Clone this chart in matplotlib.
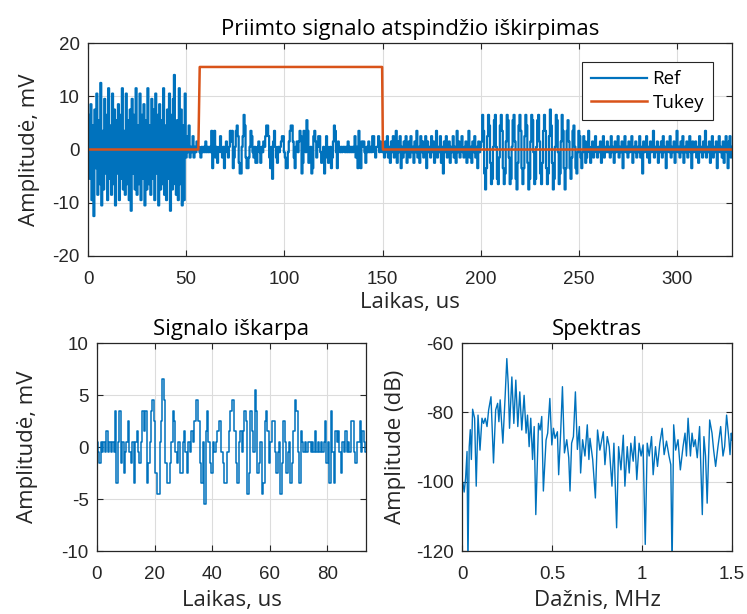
import matplotlib
matplotlib.use('Agg')
import matplotlib.pyplot as plt
import numpy as np

plt.rcParams['axes.unicode_minus'] = False

# --- data ---
DT = 0.5  # us, sample step used for the hand-read signal

# 0 .. 56 us : strong noise before the window
ref_head = [
    0, 6.5, -5.5, 8.5, -9.5, 4.5, -12.5, 7.5, -3.5, 10.5,
    -8.5, 5.5, -6.5, 12.5, -10.5, 3.5, -7.5, 9.5, -4.5, 6.5,
    -9.5, 11.5, -5.5, 4.5, -8.5, 10.5, -6.5, 7.5, -10.5, 5.5,
    -4.5, 8.5, -9.5, 6.5, -5.5, 11.5, -7.5, 3.5, -8.5, 10.5,
    -6.5, 5.5, -9.5, 7.5, -11.5, 9.5, -4.5, 6.5, -7.5, 11.5,
    -8.5, 4.5, -6.5, 10.5, -9.5, 6.5, -5.5, 8.5, -10.5, 5.5,
    -7.5, 11.5, -6.5, 4.5, -8.5, 9.5, -5.5, 7.5, -9.5, 10.5,
    -4.5, 6.5, -10.5, 8.5, -7.5, 5.5, -6.5, 11.5, -8.5, 4.5,
    -9.5, 7.5, -5.5, 10.5, -11.5, 6.5, -7.5, 9.5, 14.0, -6.5,
    -8.5, 5.5, -9.5, 11.5, -6.5, 7.5, -10.5, 4.5, -9.5, 10.5,
    -1.5, 2.5, -0.5, 4.5, -1.5, 0.5, -0.5, 2.5, -1.5, 0.5,
    -0.5, 1.5, 0.5,
]

# 56.5 .. 150 us : the part cut out by the window (also the lower-left plot)
ref_clip = [
    0.5, -0.5, -1.5, 0.5, -0.5, 0.5, -0.5, 1.5, -0.5, 0.5,
    -0.5, 0.5, -0.5, 3.5, -3.5, 0.5, 3.5, -1.5, 0.5, -2.5,
    -0.5, 0.5, 2.5, -0.5, -1.5, 0.5, -3.5, 0.5, 1.5, -0.5,
    -1.5, 0.5, 3.5, 1.5, 3.5, -3.5, -1.5, 0.5, 3.5, 4.5,
    2.5, -2.5, -4.5, -4.5, 0.5, 2.5, 6.5, 4.5, -1.5, -3.5,
    -3.5, -1.5, 0.5, 3.5, 2.5, -0.5, -1.5, 0.5, -2.5, -2.5,
    0.5, 1.5, -0.5, -2.5, 0.5, -0.5, 1.5, 0.5, 2.5, 4.5,
    4.5, 2.5, -1.5, -3.5, 0.5, -5.5, 1.5, 3.5, 0.5, -1.5,
    -2.5, 0.5, -0.5, 0.5, 1.5, 2.5, 2.5, -0.5, -1.5, -3.5,
    -3.5, -0.5, 1.5, 3.5, 4.5, 4.5, 1.5, -1.5, -3.5, 0.5,
    1.5, -0.5, 1.5, 3.5, 2.5, -4.5, -2.5, 3.5, 1.5, -0.5,
    5.5, 3.5, -2.5, -1.5, 0.5, -4.5, -3.5, 2.5, 3.5, 1.5,
    -1.5, 0.5, 2.5, 2.5, -0.5, -2.5, -0.5, 0.5, -4.5, -1.5,
    2.5, 0.5, -2.5, -0.5, 0.5, -3.5, -1.5, 1.5, 4.5, 3.5,
    -0.5, -3.5, 1.5, 0.5, -0.5, 0.5, -0.5, 0.5, 0.5, -0.5,
    0.5, -0.5, 1.5, -0.5, 0.5, -0.5, 0.5, -0.5, 0.5, 2.5,
    -1.5, 0.5, -3.5, 3.5, -0.5, -3.5, 1.5, 0.5, 1.5, -0.5,
    -2.5, 0.5, -0.5, 1.5, -0.5, 0.5, -0.5, 2.5, 2.5, -0.5,
    -1.5, 0.5, 0.5, 2.5, -0.5, 1.5, 0.5, -0.5,
]

# 150.5 .. 200 us : low noise
ref_quiet1 = [
    0.5, -1.5, 1.5, -0.5, 2.5, -1.5, 0.5, -2.5, 1.5, -0.5,
    2.5, -1.5, 0.5, 3.5, -2.5, 1.5, -0.5, 2.5, -3.5, 0.5,
    -1.5, 1.5, -0.5, 2.5, -2.5, 0.5, 1.5, -1.5, 2.5, -0.5,
    0.5, -2.5, 1.5, -0.5, 3.5, -1.5, 0.5, -2.5, 2.5, -0.5,
    1.5, -1.5, 0.5, 2.5, -3.5, 1.5, -0.5, 0.5, -1.5, 2.5,
    -0.5, 1.5, -2.5, 0.5, 3.5, -1.5, 0.5, -0.5, 2.5, -2.5,
    0.5, -4.5, 1.5, -0.5, 2.5, -1.5, 0.5, 1.5, -2.5, 0.5,
    -0.5, 2.5, -1.5, 0.5, -2.5, 3.5, -0.5, 1.5, -1.5, 0.5,
    2.5, -0.5, -1.5, 0.5, 1.5, -2.5, 0.5, 3.5, -1.5, 0.5,
    -2.5, 1.5, -0.5, 2.5, -1.5, 0.5, -3.5, 1.5, -0.5, 0.5,
]

# 200.5 .. 250 us : echo burst
ref_echo = [
    1.5, 6.5, 3.5, -4.5, -7.5, -3.5, 2.5, 6.5, 4.5, -2.5,
    -6.5, -5.5, 0.5, 5.5, 6.5, 0.5, -5.5, -6.5, -1.5, 4.5,
    6.5, 3.5, -3.5, -6.5, -4.5, 1.5, 6.5, 5.5, -1.5, -6.5,
    -5.5, 0.5, 5.5, 6.5, 1.5, -5.5, -7.5, -2.5, 4.5, 6.5,
    3.5, -3.5, -6.5, -3.5, 2.5, 6.5, 4.5, -2.5, -7.5, -5.5,
    1.5, 6.5, 5.5, -0.5, -6.5, -5.5, 0.5, 5.5, 6.5, 1.5,
    -4.5, -6.5, -2.5, 3.5, 6.5, 3.5, -3.5, -6.5, -4.5, 2.5,
    7.5, 4.5, -2.5, -7.5, -5.5, 0.5, 6.5, 5.5, -0.5, -6.5,
    -4.5, 1.5, 6.5, 3.5, -3.5, -7.5, -3.5, 3.5, 5.5, 1.5,
    -3.5, -5.5, -1.5, 3.5, 4.5, 0.5, -3.5, -4.5, -0.5, 3.5,
]

# 250.5 .. 328 us : low noise
ref_quiet2 = [
    2.5, -1.5, -3.5, -0.5, 2.5, 1.5, -2.5, -1.5, 1.5, 3.5,
    -0.5, -2.5, 0.5, 1.5, -1.5, 0.5, 2.5, -0.5, -1.5, 0.5,
    -0.5, 1.5, -2.5, 0.5, 2.5, -1.5, 0.5, -0.5, 1.5, -0.5,
    0.5, -1.5, 2.5, -0.5, 0.5, -2.5, 1.5, -0.5, 0.5, 2.5,
    -1.5, 0.5, -0.5, 1.5, -3.5, 0.5, 2.5, -0.5, 0.5, -1.5,
    1.5, -0.5, 0.5, 2.5, -2.5, 0.5, -0.5, 1.5, -1.5, 0.5,
    -0.5, 2.5, -1.5, 0.5, -4.5, 1.5, -0.5, 0.5, 2.5, -1.5,
    0.5, -2.5, 1.5, -0.5, 0.5, 3.5, -1.5, 0.5, -0.5, 1.5,
    -2.5, 0.5, -0.5, 1.5, -1.5, 2.5, -0.5, 0.5, -3.5, 1.5,
    0.5, -0.5, 2.5, -1.5, 0.5, -0.5, 1.5, -2.5, 0.5, 3.5,
    -0.5, 0.5, -1.5, 1.5, -0.5, 2.5, -2.5, 0.5, -0.5, 1.5,
    -1.5, 0.5, 2.5, -0.5, -3.5, 1.5, -0.5, 0.5, 1.5, -1.5,
    0.5, -2.5, 2.5, -0.5, 0.5, -1.5, 1.5, -0.5, 3.5, -1.5,
    0.5, -0.5, 1.5, -2.5, 0.5, 2.5, -1.5, 0.5, -0.5, 1.5,
    -3.5, 0.5, 2.5, -0.5, 0.5, -1.5, 1.5, -2.5, 0.5, 2.5,
    -0.5, -3.5, 1.5, 2.5, -1.5, 0.5,
]

# Tukey window corners (us, mV)
tukey_t = [0, 56.2, 56.9, 149.8, 150.2, 328]
tukey_v = [0, 0, 15.5, 15.5, 0, 0]

# spectrum of the clip: frequency (MHz) and level (dB)
spec_f = [0.0, 0.005, 0.012, 0.02, 0.028, 0.033, 0.04, 0.046, 0.052, 0.059,
          0.07, 0.079, 0.089, 0.1, 0.111, 0.12, 0.129, 0.139, 0.148, 0.161,
          0.175, 0.187, 0.198, 0.205, 0.212, 0.227, 0.24, 0.249, 0.257, 0.264,
          0.277, 0.288, 0.299, 0.31, 0.321, 0.332, 0.345, 0.356, 0.364, 0.373,
          0.382, 0.392, 0.401, 0.41, 0.425, 0.434, 0.443, 0.452, 0.467, 0.476,
          0.488, 0.499, 0.508, 0.517, 0.53, 0.537, 0.548, 0.558, 0.569, 0.582,
          0.593, 0.6, 0.609, 0.619, 0.63, 0.641, 0.652, 0.659, 0.67, 0.683,
          0.696, 0.705, 0.711, 0.726, 0.741, 0.753, 0.766, 0.785, 0.794, 0.807,
          0.818, 0.833, 0.844, 0.859, 0.87, 0.883, 0.896, 0.905, 0.918, 0.929,
          0.938, 0.951, 0.96, 0.971, 0.984, 0.995, 1.006, 1.018, 1.029, 1.04,
          1.053, 1.062, 1.075, 1.086, 1.099, 1.112, 1.123, 1.136, 1.15, 1.16,
          1.167, 1.176, 1.187, 1.2, 1.213, 1.228, 1.239, 1.247, 1.256, 1.269,
          1.278, 1.287, 1.296, 1.307, 1.32, 1.335, 1.344, 1.353, 1.362, 1.376,
          1.389, 1.398, 1.409, 1.422, 1.437, 1.45, 1.459, 1.47, 1.483, 1.489,
          1.496, 1.5]
spec_db = [-101.5, -100.2, -103.0, -99.0, -91.3, -125.0, -90.0, -85.0, -93.6, -79.1,
           -81.7, -101.3, -80.8, -90.9, -81.7, -83.2, -81.7, -84.1, -79.3, -75.5,
           -94.6, -79.3, -77.4, -82.7, -76.4, -88.9, -75.0, -64.5, -72.0, -84.6,
           -69.8, -83.2, -70.7, -84.1, -74.1, -85.1, -75.1, -86.0, -80.8, -89.9,
           -81.7, -93.6, -84.1, -109.5, -83.2, -85.1, -81.2, -102.7, -88.0, -86.0,
           -76.0, -89.4, -84.6, -87.5, -85.6, -98.0, -86.0, -72.6, -91.7, -87.9,
           -93.1, -102.7, -88.9, -87.0, -74.1, -90.7, -84.1, -97.5, -87.9, -92.6,
           -83.6, -93.6, -87.5, -93.6, -104.7, -85.1, -90.9, -85.6, -95.1, -87.0,
           -89.9, -101.3, -88.9, -113.3, -89.9, -96.6, -86.6, -101.3, -89.9, -97.5,
           -88.9, -94.1, -87.0, -99.4, -88.9, -92.6, -89.4, -118.1, -88.9, -92.6,
           -87.0, -98.0, -89.9, -95.6, -88.9, -84.6, -92.2, -88.3, -92.6, -95.1,
           -125.0, -83.6, -90.9, -87.9, -96.6, -89.9, -86.0, -92.6, -81.7, -92.6,
           -86.0, -89.9, -87.9, -93.1, -84.1, -109.5, -87.0, -92.6, -106.2, -82.2,
           -86.0, -90.9, -95.6, -89.9, -84.1, -92.6, -89.9, -80.8, -87.9, -92.2,
           -86.0, -88.0]

BLUE = '#0072BD'
ORANGE = '#D95319'
TXT = '#262626'
LABEL_FONT = ['Open Sans', 'DejaVu Sans']
TICK_FONT = ['Liberation Sans', 'DejaVu Sans']

ref = np.array(ref_head + ref_clip + ref_quiet1 + ref_echo + ref_quiet2)
t = np.arange(len(ref)) * DT
clip = np.array(ref_clip)
t_clip = np.arange(len(clip)) * DT


def style(ax, xlim, ylim, xticks, yticks, xlabels=None):
    ax.set_xlim(xlim)
    ax.set_ylim(ylim)
    ax.set_xticks(xticks)
    ax.set_yticks(yticks)
    if xlabels is not None:
        ax.set_xticklabels(xlabels)
    ax.grid(True, color='#dcdcdc', lw=0.8)
    ax.set_axisbelow(True)
    ax.tick_params(direction='in', top=True, right=True, length=4,
                   width=0.8, colors=TXT, labelsize=13.5)
    ax.tick_params(axis='x', pad=11)
    ax.tick_params(axis='y', pad=6)
    for lab in ax.get_xticklabels() + ax.get_yticklabels():
        lab.set_family(TICK_FONT)
    for s in ax.spines.values():
        s.set_color(TXT)
        s.set_linewidth(0.9)


def labels(ax, title, xl, yl, xpad, ypad):
    ax.set_title(title, family=LABEL_FONT, fontsize=16, fontweight='medium',
                 color='black', pad=6)
    ax.set_xlabel(xl, family=LABEL_FONT, fontsize=16, color=TXT, labelpad=xpad)
    ax.set_ylabel(yl, family=LABEL_FONT, fontsize=16, color=TXT, labelpad=ypad)


fig = plt.figure(figsize=(7.47, 6.14), dpi=100)

# top: whole received signal with the window
ax1 = fig.add_axes([88/747, 1-256/614, 644/747, 213/614])
ax1.plot(t, ref, color=BLUE, lw=1.6, drawstyle='steps-mid', label='Ref')
ax1.plot(tukey_t, tukey_v, color=ORANGE, lw=1.8, label='Tukey')
style(ax1, (0, 328), (-20, 20), np.arange(0, 301, 50), np.arange(-20, 21, 10))
labels(ax1, 'Priimto signalo atspindžio iškirpimas', 'Laikas, us',
       'Amplitudė, mV', 3, 9)
leg = ax1.legend(loc='upper right', bbox_to_anchor=(0.970, 0.911), fancybox=False,
                 framealpha=1, edgecolor=TXT, handlelength=3.0, handletextpad=0.3,
                 borderpad=0.45, labelspacing=0.3, borderaxespad=0,
                 prop={'family': LABEL_FONT, 'size': 13.5})
leg.get_frame().set_linewidth(0.8)

# bottom left: cut-out part
ax2 = fig.add_axes([97/747, 1-551/614, 269/747, 208/614])
ax2.plot(t_clip, clip, color=BLUE, lw=1.1, drawstyle='steps-mid')
style(ax2, (0, 93.5), (-10, 10), np.arange(0, 81, 20), np.arange(-10, 11, 5))
labels(ax2, 'Signalo iškarpa', 'Laikas, us', 'Amplitudė, mV', 5, 17)

# bottom right: spectrum
ax3 = fig.add_axes([462/747, 1-551/614, 270/747, 208/614])
ax3.plot(spec_f, spec_db, color=BLUE, lw=1.0)
style(ax3, (0, 1.5), (-120, -60), [0, 0.5, 1, 1.5], np.arange(-120, -59, 20),
      ['0', '0.5', '1', '1.5'])
labels(ax3, 'Spektras', 'Dažnis, MHz', 'Amplitude (dB)', 5, 7)

fig.savefig('out.png', dpi=100)
